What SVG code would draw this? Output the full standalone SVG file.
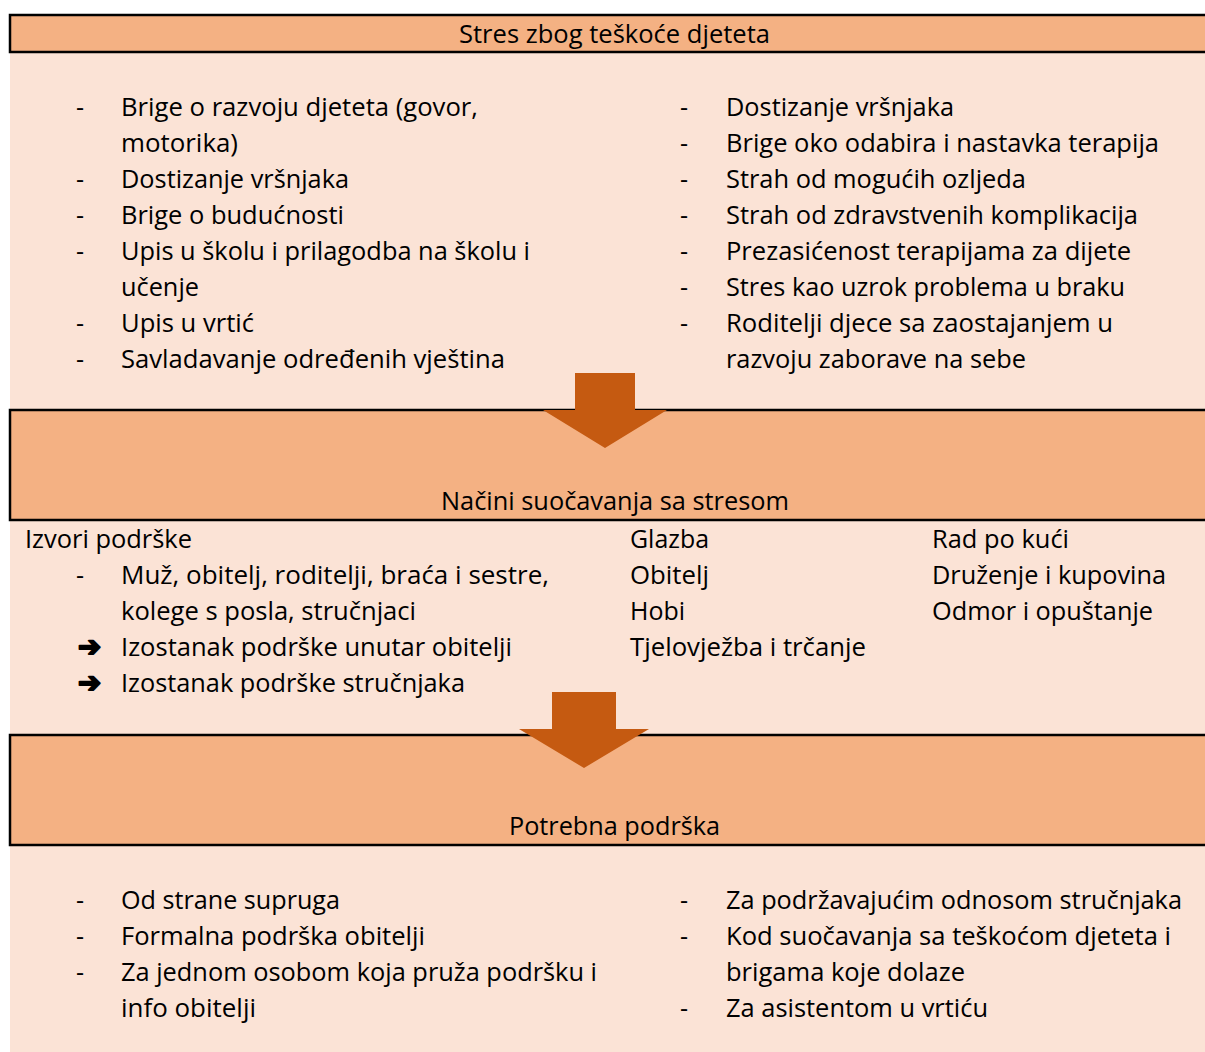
<svg xmlns="http://www.w3.org/2000/svg" width="1205" height="1052" viewBox="0 0 1205 1052">
<style>
  .t { font-family: "Open Sans", "Noto Sans", "DejaVu Sans", sans-serif; font-size: 25px; fill: #000; }
  .c { text-anchor: middle; }
  .band { fill: #F4B183; }
  .line { stroke: #000; stroke-width: 2.5; fill: none; }
  .arrow { fill: #C55A11; }
  .sym { font-family: "DejaVu Sans", sans-serif; font-size: 28px; font-weight: bold; fill: #000; stroke: #000; stroke-width: 2; stroke-linejoin: round; }
</style>
<rect x="0" y="0" width="1205" height="1052" fill="#FFFFFF"/>
<rect x="10" y="15" width="1195" height="1037" fill="#FBE3D6"/>

<g id="node-stres">
  <rect class="band" x="10" y="15" width="1195" height="37"/>
  <path class="line" d="M1205,15 H10 V52 H1205"/>
  <text class="t c" x="614.5" y="43" textLength="311" lengthAdjust="spacingAndGlyphs">Stres zbog teškoće djeteta</text>
  <g id="stres-left">
    <text class="t" x="76" y="116">-</text>
    <text class="t" x="121" y="116" textLength="357" lengthAdjust="spacingAndGlyphs">Brige o razvoju djeteta (govor,</text>
    <text class="t" x="121" y="152" textLength="117" lengthAdjust="spacingAndGlyphs">motorika)</text>
    <text class="t" x="76" y="188">-</text>
    <text class="t" x="121" y="188" textLength="228" lengthAdjust="spacingAndGlyphs">Dostizanje vršnjaka</text>
    <text class="t" x="76" y="224">-</text>
    <text class="t" x="121" y="224" textLength="223" lengthAdjust="spacingAndGlyphs">Brige o budućnosti</text>
    <text class="t" x="76" y="260">-</text>
    <text class="t" x="121" y="260" textLength="409" lengthAdjust="spacingAndGlyphs">Upis u školu i prilagodba na školu i</text>
    <text class="t" x="121" y="296" textLength="78" lengthAdjust="spacingAndGlyphs">učenje</text>
    <text class="t" x="76" y="332">-</text>
    <text class="t" x="121" y="332" textLength="133" lengthAdjust="spacingAndGlyphs">Upis u vrtić</text>
    <text class="t" x="76" y="368">-</text>
    <text class="t" x="121" y="368" textLength="384" lengthAdjust="spacingAndGlyphs">Savladavanje određenih vještina</text>
  </g>
  <g id="stres-right">
    <text class="t" x="680" y="116">-</text>
    <text class="t" x="726" y="116" textLength="228" lengthAdjust="spacingAndGlyphs">Dostizanje vršnjaka</text>
    <text class="t" x="680" y="152">-</text>
    <text class="t" x="726" y="152" textLength="433" lengthAdjust="spacingAndGlyphs">Brige oko odabira i nastavka terapija</text>
    <text class="t" x="680" y="188">-</text>
    <text class="t" x="726" y="188" textLength="300" lengthAdjust="spacingAndGlyphs">Strah od mogućih ozljeda</text>
    <text class="t" x="680" y="224">-</text>
    <text class="t" x="726" y="224" textLength="412" lengthAdjust="spacingAndGlyphs">Strah od zdravstvenih komplikacija</text>
    <text class="t" x="680" y="260">-</text>
    <text class="t" x="726" y="260" textLength="405" lengthAdjust="spacingAndGlyphs">Prezasićenost terapijama za dijete</text>
    <text class="t" x="680" y="296">-</text>
    <text class="t" x="726" y="296" textLength="399" lengthAdjust="spacingAndGlyphs">Stres kao uzrok problema u braku</text>
    <text class="t" x="680" y="332">-</text>
    <text class="t" x="726" y="332" textLength="387" lengthAdjust="spacingAndGlyphs">Roditelji djece sa zaostajanjem u</text>
    <text class="t" x="726" y="368" textLength="300" lengthAdjust="spacingAndGlyphs">razvoju zaborave na sebe</text>
  </g>
</g>

<g id="node-nacini">
  <rect class="band" x="10" y="410" width="1195" height="110"/>
  <path class="line" d="M1205,410 H10 V520 H1205"/>
  <text class="t c" x="615" y="510" textLength="348" lengthAdjust="spacingAndGlyphs">Načini suočavanja sa stresom</text>
  <g id="nacini-izvori">
    <text class="t" x="25" y="548" textLength="167" lengthAdjust="spacingAndGlyphs">Izvori podrške</text>
    <text class="t" x="76" y="584">-</text>
    <text class="t" x="121" y="584" textLength="428" lengthAdjust="spacingAndGlyphs">Muž, obitelj, roditelji, braća i sestre,</text>
    <text class="t" x="121" y="620" textLength="295" lengthAdjust="spacingAndGlyphs">kolege s posla, stručnjaci</text>
    <text class="sym" x="78" y="656" textLength="23" lengthAdjust="spacingAndGlyphs">➔</text>
    <text class="t" x="121" y="656" textLength="391" lengthAdjust="spacingAndGlyphs">Izostanak podrške unutar obitelji</text>
    <text class="sym" x="78" y="692" textLength="23" lengthAdjust="spacingAndGlyphs">➔</text>
    <text class="t" x="121" y="692" textLength="344" lengthAdjust="spacingAndGlyphs">Izostanak podrške stručnjaka</text>
  </g>
  <g id="nacini-mid">
    <text class="t" x="630" y="548" textLength="79" lengthAdjust="spacingAndGlyphs">Glazba</text>
    <text class="t" x="630" y="584" textLength="79" lengthAdjust="spacingAndGlyphs">Obitelj</text>
    <text class="t" x="630" y="620" textLength="55" lengthAdjust="spacingAndGlyphs">Hobi</text>
    <text class="t" x="630" y="656" textLength="236" lengthAdjust="spacingAndGlyphs">Tjelovježba i trčanje</text>
  </g>
  <g id="nacini-right">
    <text class="t" x="932" y="548" textLength="137" lengthAdjust="spacingAndGlyphs">Rad po kući</text>
    <text class="t" x="932" y="584" textLength="234" lengthAdjust="spacingAndGlyphs">Druženje i kupovina</text>
    <text class="t" x="932" y="620" textLength="221" lengthAdjust="spacingAndGlyphs">Odmor i opuštanje</text>
  </g>
</g>

<g id="node-potrebna">
  <rect class="band" x="10" y="735" width="1195" height="110"/>
  <path class="line" d="M1205,735 H10 V845 H1205"/>
  <text class="t c" x="614.5" y="835" textLength="211" lengthAdjust="spacingAndGlyphs">Potrebna podrška</text>
  <g id="potrebna-left">
    <text class="t" x="76" y="909">-</text>
    <text class="t" x="121" y="909" textLength="219" lengthAdjust="spacingAndGlyphs">Od strane supruga</text>
    <text class="t" x="76" y="945">-</text>
    <text class="t" x="121" y="945" textLength="304" lengthAdjust="spacingAndGlyphs">Formalna podrška obitelji</text>
    <text class="t" x="76" y="981">-</text>
    <text class="t" x="121" y="981" textLength="476" lengthAdjust="spacingAndGlyphs">Za jednom osobom koja pruža podršku i</text>
    <text class="t" x="121" y="1017" textLength="135" lengthAdjust="spacingAndGlyphs">info obitelji</text>
  </g>
  <g id="potrebna-right">
    <text class="t" x="680" y="909">-</text>
    <text class="t" x="726" y="909" textLength="456" lengthAdjust="spacingAndGlyphs">Za podržavajućim odnosom stručnjaka</text>
    <text class="t" x="680" y="945">-</text>
    <text class="t" x="726" y="945" textLength="445" lengthAdjust="spacingAndGlyphs">Kod suočavanja sa teškoćom djeteta i</text>
    <text class="t" x="726" y="981" textLength="239" lengthAdjust="spacingAndGlyphs">brigama koje dolaze</text>
    <text class="t" x="680" y="1017">-</text>
    <text class="t" x="726" y="1017" textLength="262" lengthAdjust="spacingAndGlyphs">Za asistentom u vrtiću</text>
  </g>
</g>

<g id="connectors">
  <path class="arrow" d="M575,373 H635 V410 H667 L605,448 L543,410 H575 Z"/>
  <path class="arrow" d="M552,692 H616 V729 H649 L584,768 L519,729 H552 Z"/>
</g>
</svg>
